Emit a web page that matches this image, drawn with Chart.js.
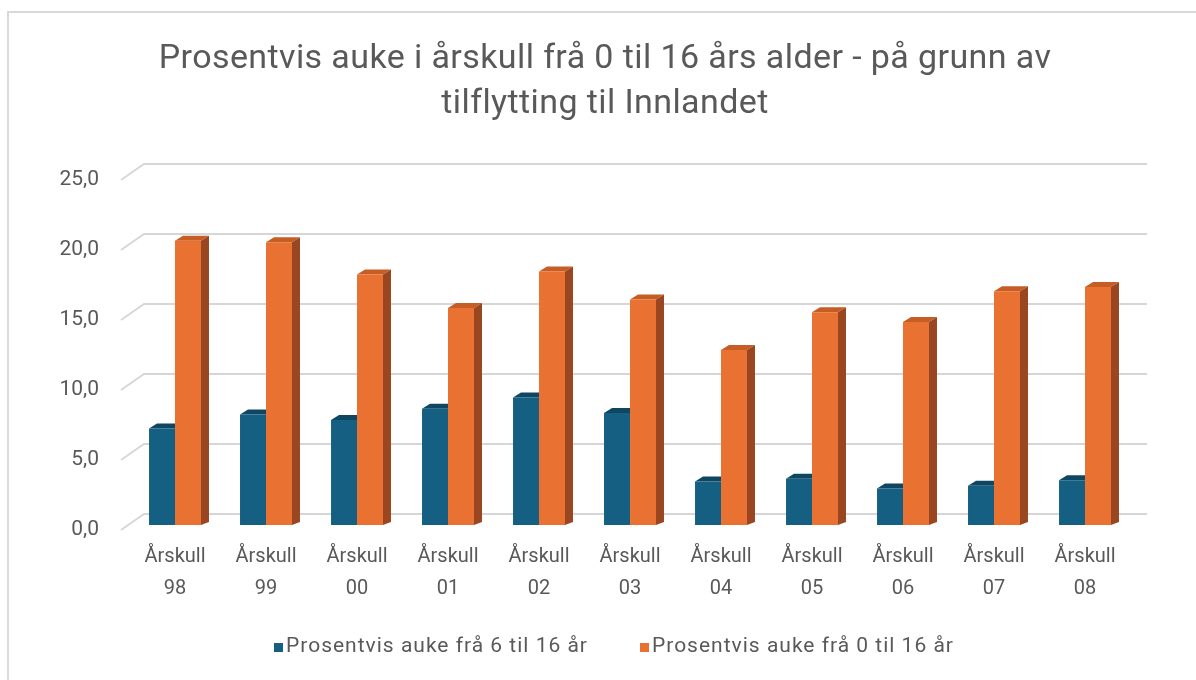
<!DOCTYPE html>
<html>
<head>
<meta charset="utf-8">
<script src="https://cdn.jsdelivr.net/npm/chart.js@4"></script>
<style>
    html, body { margin: 0; padding: 0; background: #fff; }
    #wrap { position: relative; width: 1196px; height: 680px; overflow: hidden; font-family: Roboto, 'Noto Sans', sans-serif; }
    #frame { position: absolute; left: 7px; top: 11px; width: 1300px; height: 800px; border-left: 2px solid #d9d9d9; border-top: 2px solid #d9d9d9; }
    #title { position: absolute; left: 0; width: 1210px; top: 34px; text-align: center; font-size: 34px; letter-spacing: 0.4px; line-height: 45px; color: #595959; }
    #legend { position: absolute; left: 274px; top: 633px; display: flex; align-items: center; font-size: 21px; letter-spacing: 1px; color: #595959; }
    .legend-item { display: flex; align-items: center; margin-right: 52px; }
    .legend-box { width: 9px; height: 9px; margin-right: 3px; margin-top: 5px; }
    canvas { position: absolute; left: 0; top: 0; }
</style>
</head>
<body>
<div id="wrap">
    <div id="frame"></div>
    <canvas id="chart" width="1196" height="680"></canvas>
    <div id="title">Prosentvis auke i årskull frå 0 til 16 års alder - på grunn av<br>tilflytting til Innlandet</div>
    <div id="legend"></div>
</div>
<script>
// --- data ---
const years = ['98', '99', '00', '01', '02', '03', '04', '05', '06', '07', '08'];
const growth6to16 = [6.9, 7.9, 7.5, 8.3, 9.1, 8.0, 3.1, 3.3, 2.6, 2.8, 3.2];
const growth0to16 = [20.3, 20.2, 17.9, 15.5, 18.1, 16.1, 12.5, 15.2, 14.5, 16.7, 17.0];
const yTicks = [0, 5, 10, 15, 20, 25];

const seriesNames = ['Prosentvis auke frå 6 til 16 år', 'Prosentvis auke frå 0 til 16 år'];
const frontColors = ['#156082', '#e97132'];
const topColors = ['#0f4762', '#c65d25'];
const sideColors = [null, '#9a4620'];

const DX = 8, DY = -5;          // bar depth
const textColor = '#595959';
const gridColor = '#d6d6d6';

// fake 3D: back-wall grid + bar top/side faces, drawn under the front faces
const depth3d = {
    id: 'depth3d',
    beforeDatasetsDraw(chart) {
        const { ctx, chartArea, scales } = chart;
        const y = scales.y;
        ctx.save();
        ctx.strokeStyle = gridColor;
        ctx.lineWidth = 1.8;
        y.ticks.forEach(t => {
            const py = y.getPixelForValue(t.value);
            ctx.beginPath();
            ctx.moveTo(chartArea.left - 8.5, py + 5);
            ctx.lineTo(chartArea.left + 14.5, py - 11);
            ctx.lineTo(chartArea.right + 16.5, py - 11);
            ctx.stroke();
        });

        const poly = (pts, color) => {
            ctx.fillStyle = color;
            ctx.beginPath();
            ctx.moveTo(pts[0][0], pts[0][1]);
            pts.slice(1).forEach(p => ctx.lineTo(p[0], p[1]));
            ctx.closePath();
            ctx.fill();
        };

        chart.data.datasets.forEach((ds, i) => {
            const meta = chart.getDatasetMeta(i);
            meta.data.forEach(bar => {
                const { x, y: top, base, width } = bar.getProps(['x', 'y', 'base', 'width'], true);
                const l = x - width / 2, r = x + width / 2;
                poly([[l, top], [r, top], [r + DX, top + DY], [l + DX, top + DY]], topColors[i]);
                if (sideColors[i]) {
                    poly([[r, top], [r + DX, top + DY], [r + DX, base + DY + 2], [r, base]], sideColors[i]);
                }
            });
        });
        ctx.restore();
    }
};

const chart = new Chart(document.getElementById('chart'), {
    type: 'bar',
    data: {
        labels: years.map(y => ['Årskull', y]),
        datasets: seriesNames.map((name, i) => ({
            label: name,
            data: i === 0 ? growth6to16 : growth0to16,
            backgroundColor: frontColors[i],
            borderWidth: 0,
            categoryPercentage: 0.571,
            barPercentage: 1.0
        }))
    },
    options: {
        responsive: false,
        animation: false,
        layout: { padding: { left: 29.5, right: 65.5, top: 175, bottom: 65 } },
        plugins: {
            legend: { display: false },
            title: { display: false },
            tooltip: { enabled: false }
        },
        scales: {
            x: {
                grid: { display: false, drawTicks: false },
                border: { display: false },
                ticks: {
                    color: textColor,
                    padding: 16,
                    maxRotation: 0,
                    font: { family: 'Roboto', size: 20, lineHeight: 1.6 }
                },
                afterFit: s => { s.height = 90; }
            },
            y: {
                min: 0,
                max: 25,
                afterBuildTicks: s => { s.ticks = yTicks.map(v => ({ value: v })); },
                grid: { display: false, drawTicks: false },
                border: { display: false },
                ticks: {
                    color: textColor,
                    padding: 30.5,
                    labelOffset: 5,
                    font: { family: 'Roboto', size: 21 },
                    callback: v => v.toFixed(1).replace('.', ',')
                },
                afterFit: s => { s.width = 100; }
            }
        }
    },
    plugins: [depth3d]
});

// html legend from the datasets
document.getElementById('legend').innerHTML = chart.data.datasets.map(ds => `
    <div class="legend-item">
        <div class="legend-box" style="background:${ds.backgroundColor}"></div>
        <span>${ds.label}</span>
    </div>`).join('');
</script>
</body>
</html>
